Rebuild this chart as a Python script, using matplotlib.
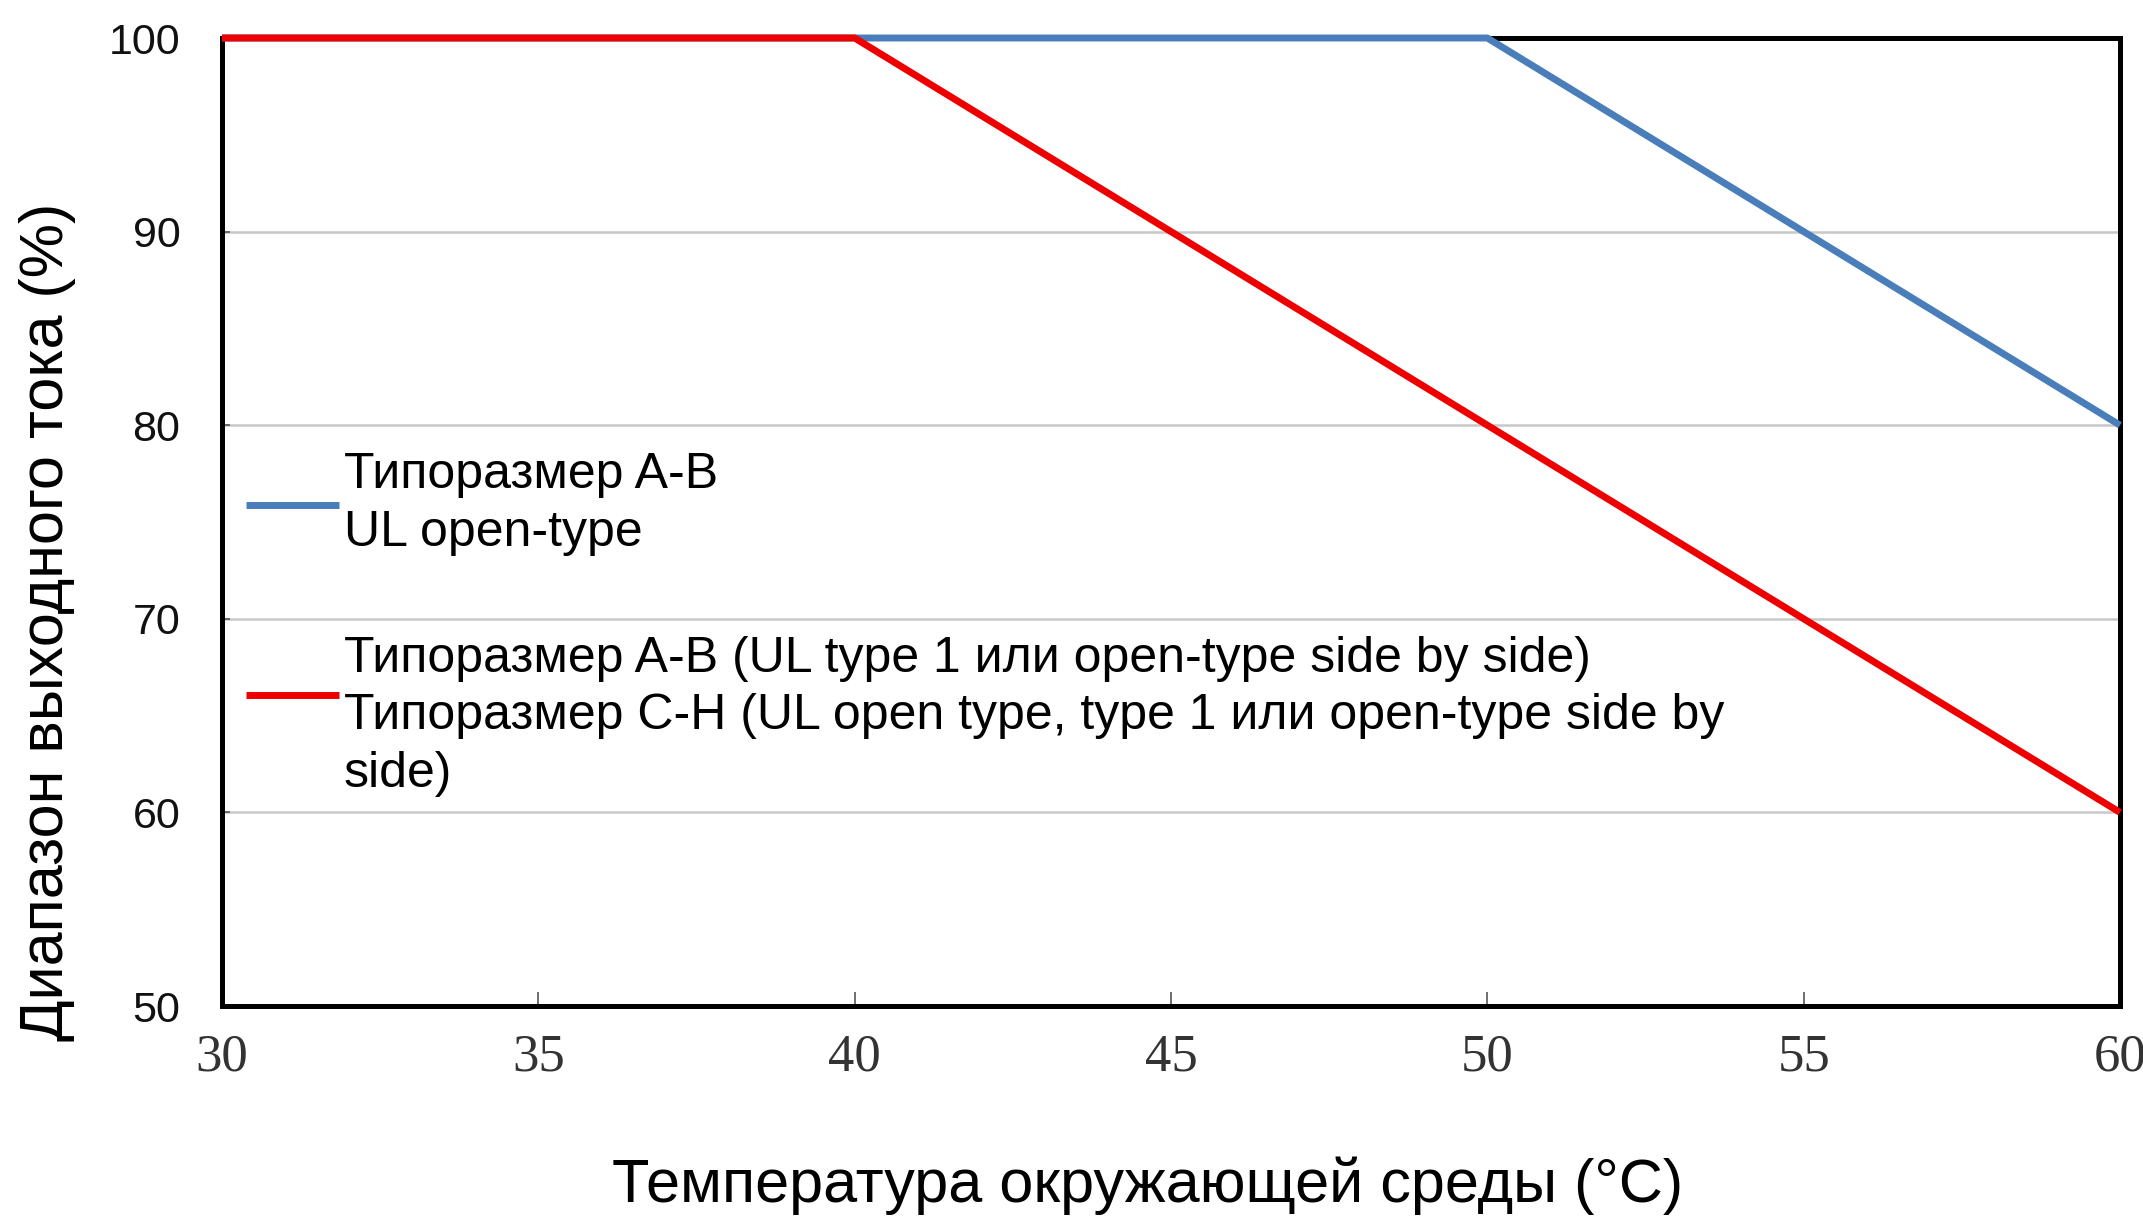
import matplotlib
matplotlib.use("Agg")
import matplotlib.pyplot as plt

# ambient temperature (°C) and output current range (%)
temp = [30, 40, 50, 60]
size_ab_open = [100, 100, 100, 80]
size_ch_type1 = [100, 100, 80, 60]

x_ticks = [30, 35, 40, 45, 50, 55, 60]
y_ticks = [50, 60, 70, 80, 90, 100]

label_blue = "Типоразмер A-B\nUL open-type"
label_red = ("Типоразмер A-B (UL type 1 или open-type side by side)\n"
             "Типоразмер C-H (UL open type, type 1 или open-type side by\n"
             "side)")

plt.rcParams['font.family'] = ['Liberation Sans', 'DejaVu Sans']

fig = plt.figure(figsize=(21.43, 12.28), dpi=100)
ax = fig.add_axes([222 / 2143, 1 - 1006 / 1228, (2120 - 222) / 2143, (1006 - 38) / 1228])

ax.plot(temp, size_ab_open, color='#4a7ebb', lw=5, label=label_blue,
        clip_on=False, zorder=5, solid_capstyle='butt')
ax.plot(temp, size_ch_type1, color='#ee0000', lw=5, label=label_red,
        clip_on=False, zorder=6, solid_capstyle='butt')

ax.set_xlim(30, 60)
ax.set_ylim(50, 100)
ax.set_xticks(x_ticks)
ax.set_yticks(y_ticks)
ax.set_xticklabels([str(t) for t in x_ticks], family='Liberation Serif',
                   fontsize=38, color='#333333')
ax.set_yticklabels([str(t) for t in y_ticks], fontsize=31, color='#111111')
ax.tick_params(axis='x', direction='in', length=10, width=1.2, color='#555555', pad=20)
ax.tick_params(axis='y', direction='in', length=6, width=1.2, color='#555555', pad=30)

ax.grid(axis='y', color='#c8c8c8', lw=1.8)
ax.set_axisbelow(True)
for s in ax.spines.values():
    s.set_linewidth(3.6)
    s.set_color('black')

leg = ax.legend(loc='upper left', bbox_to_anchor=(0.0126, 0.572), frameon=False,
                fontsize=36, handlelength=1.86, handletextpad=0.1,
                labelspacing=1.6, borderpad=0, borderaxespad=0)
for t in leg.get_texts():
    t.set_linespacing(1.32)
# red handle sits between the first two text lines, not on the middle one
red_handle = leg.get_lines()[1]
red_handle.set_ydata([y + 16 for y in red_handle.get_ydata()])

fig.text(1148 / 2143, 1 - 1186 / 1228, "Температура окружающей среды (°C)",
         ha='center', va='center', fontsize=44)
fig.text(48 / 2143, 1 - 622 / 1228, "Диапазон выходного тока (%)",
         ha='center', va='center', rotation=90, fontsize=44)

fig.savefig("out.png", dpi=100, facecolor='white')
